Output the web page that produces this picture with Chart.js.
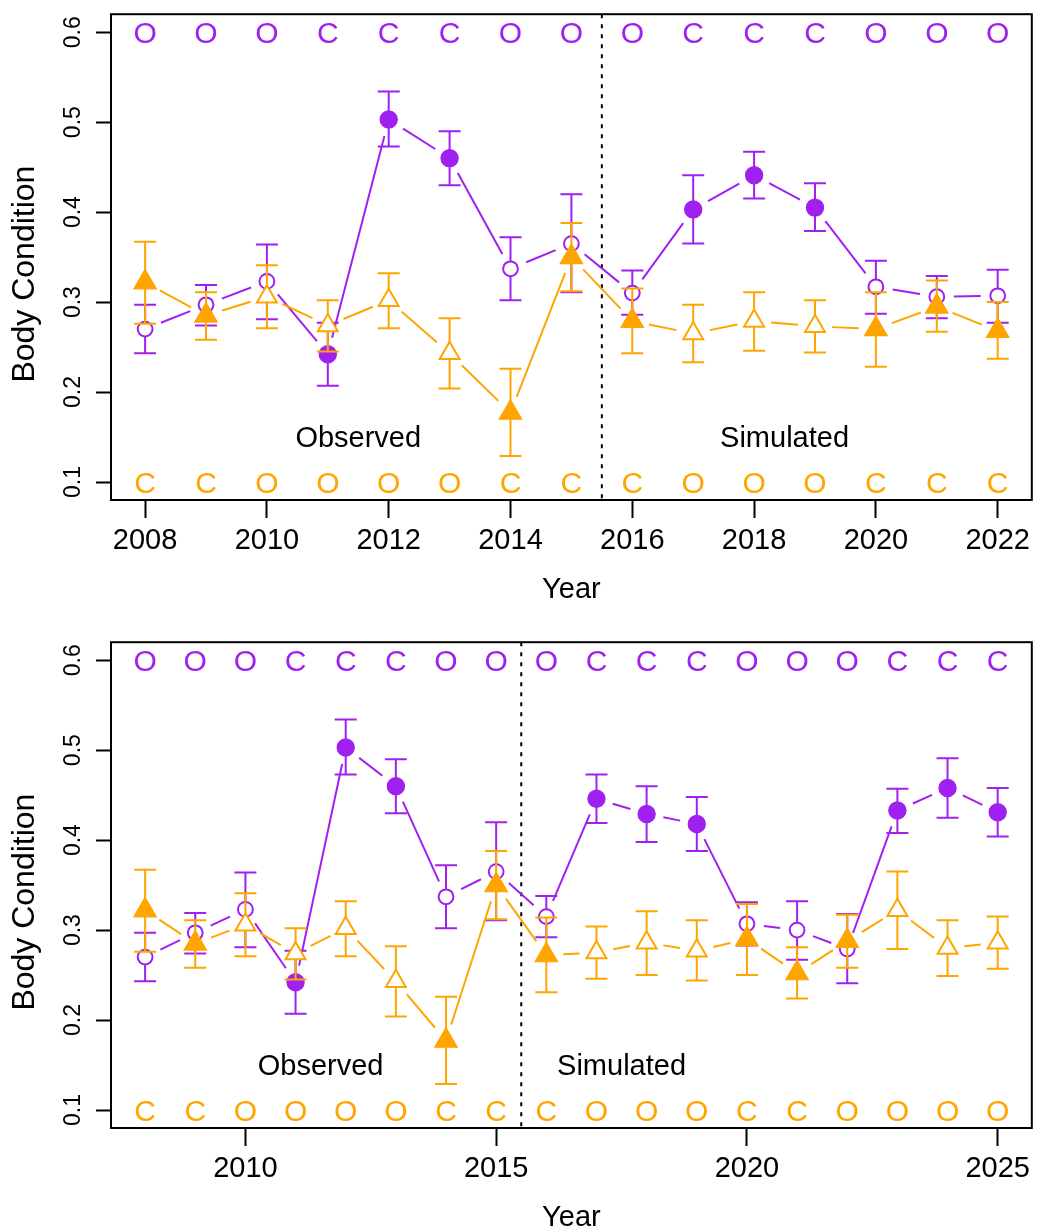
<!DOCTYPE html>
<html>
<head>
<meta charset="utf-8">
<script src="https://cdn.jsdelivr.net/npm/chart.js@4.4.1/dist/chart.umd.min.js"></script>
<style>
html,body{margin:0;padding:0;background:#fff;overflow:hidden;}
#wrap{position:relative;width:1046px;height:1230px;overflow:hidden;background:#fff;}
canvas{position:absolute;left:0;}
</style>
</head>
<body>
<div id="wrap">
<canvas id="c1" width="1046" height="628" style="top:0px"></canvas>
<canvas id="c2" width="1046" height="628" style="top:628px"></canvas>
</div>
<script>
// ---------- Panel A (2008-2022) ----------
const yearsA = [2008,2009,2010,2011,2012,2013,2014,2015,2016,2017,2018,2019,2020,2021,2022];
const purpleA   = [0.270,0.297,0.323,0.242,0.503,0.460,0.337,0.365,0.310,0.403,0.441,0.405,0.317,0.306,0.307];
const purpleLoA = [0.243,0.274,0.281,0.207,0.473,0.430,0.302,0.311,0.286,0.365,0.415,0.379,0.287,0.282,0.277];
const purpleHiA = [0.297,0.319,0.364,0.277,0.534,0.490,0.372,0.420,0.335,0.441,0.467,0.432,0.346,0.329,0.336];
const orangeA   = [0.322,0.285,0.306,0.274,0.302,0.243,0.177,0.350,0.279,0.265,0.279,0.273,0.270,0.295,0.268];
const orangeLoA = [0.276,0.258,0.271,0.245,0.271,0.204,0.129,0.312,0.243,0.233,0.246,0.244,0.228,0.267,0.237];
const orangeHiA = [0.367,0.311,0.341,0.302,0.332,0.282,0.226,0.388,0.315,0.297,0.311,0.302,0.311,0.324,0.300];
const topLettersA    = ['O','O','O','C','C','C','O','O','O','C','C','C','O','O','O'];
const bottomLettersA = ['C','C','O','O','O','O','C','C','C','O','O','O','C','C','C'];
const purpleFilledA  = [0,0,0,1,1,1,0,0,0,1,1,1,0,0,0];
const orangeFilledA  = [1,1,0,0,0,0,1,1,1,0,0,0,1,1,1];
const xTicksA = [2008,2010,2012,2014,2016,2018,2020,2022];
const xTickLabelsA = ['2008','2010','2012','2014','2016','2018','2020','2022'];

// ---------- Panel B (2008-2025) ----------
const yearsB = [2008,2009,2010,2011,2012,2013,2014,2015,2016,2017,2018,2019,2020,2021,2022,2023,2024,2025];
const purpleB   = [0.270,0.297,0.323,0.242,0.503,0.460,0.337,0.365,0.315,0.446,0.429,0.418,0.307,0.300,0.279,0.433,0.458,0.431];
const purpleLoB = [0.243,0.274,0.281,0.207,0.473,0.430,0.302,0.311,0.292,0.419,0.398,0.388,0.283,0.267,0.241,0.408,0.425,0.404];
const purpleHiB = [0.297,0.319,0.364,0.277,0.534,0.490,0.372,0.420,0.338,0.473,0.460,0.448,0.331,0.332,0.318,0.457,0.491,0.458];
const orangeB   = [0.322,0.285,0.306,0.274,0.302,0.243,0.177,0.350,0.272,0.275,0.286,0.277,0.290,0.252,0.288,0.322,0.280,0.286];
const orangeLoB = [0.276,0.258,0.271,0.245,0.271,0.204,0.129,0.312,0.231,0.246,0.250,0.244,0.250,0.224,0.258,0.279,0.249,0.257];
const orangeHiB = [0.367,0.311,0.341,0.302,0.332,0.282,0.226,0.388,0.314,0.304,0.321,0.311,0.329,0.281,0.317,0.365,0.311,0.315];
const topLettersB    = ['O','O','O','C','C','C','O','O','O','C','C','C','O','O','O','C','C','C'];
const bottomLettersB = ['C','C','O','O','O','O','C','C','C','O','O','O','C','C','O','O','O','O'];
const purpleFilledB  = [0,0,0,1,1,1,0,0,0,1,1,1,0,0,0,1,1,1];
const orangeFilledB  = [1,1,0,0,0,0,1,1,1,0,0,0,1,1,1,0,0,0];
const xTicksB = [2010,2015,2020,2025];
const xTickLabelsB = ['2010','2015','2020','2025'];

// ---------- shared ----------
const yTicks = [0.1,0.2,0.3,0.4,0.5,0.6];
const yTickLabels = ['0.1','0.2','0.3','0.4','0.5','0.6'];

const PURPLE = '#A020F0';
const ORANGE = '#FFA500';
const FONT = "'Liberation Sans', Arial, Helvetica, sans-serif";

const panelPlugin = {
  id: 'panelPlugin',
  beforeDatasetsDraw(chart) {
    const ctx = chart.ctx, xs = chart.scales.x, a = chart.chartArea;
    const p = chart.options.plugins.panelPlugin;
    const x = xs.getPixelForValue(p.divider);
    ctx.save();
    ctx.strokeStyle = '#000';
    ctx.lineWidth = 2;
    ctx.setLineDash([4, 6]);
    ctx.beginPath();
    ctx.moveTo(x, a.top);
    ctx.lineTo(x, a.bottom);
    ctx.stroke();
    ctx.restore();
  },
  beforeDatasetDraw(chart, args) {
    const ctx = chart.ctx, xs = chart.scales.x, ys = chart.scales.y;
    const ds = chart.data.datasets[args.index];
    const pts = args.meta.data;
    ctx.save();
    ctx.strokeStyle = ds.seriesColor;
    ctx.lineWidth = 2;
    ctx.setLineDash([]);
    // connecting lines with gaps (type = "b")
    const gap = 17;
    for (let i = 0; i < pts.length - 1; i++) {
      const x0 = pts[i].x, y0 = pts[i].y, x1 = pts[i+1].x, y1 = pts[i+1].y;
      const dx = x1 - x0, dy = y1 - y0, len = Math.hypot(dx, dy);
      if (len <= 2 * gap) continue;
      const ux = dx / len, uy = dy / len;
      ctx.beginPath();
      ctx.moveTo(x0 + ux * gap, y0 + uy * gap);
      ctx.lineTo(x1 - ux * gap, y1 - uy * gap);
      ctx.stroke();
    }
    // error bars
    const cap = 11;
    for (let i = 0; i < ds.years.length; i++) {
      const x = xs.getPixelForValue(ds.years[i]);
      const yl = ys.getPixelForValue(ds.lo[i]);
      const yh = ys.getPixelForValue(ds.hi[i]);
      ctx.beginPath();
      ctx.moveTo(x, yl); ctx.lineTo(x, yh);
      ctx.moveTo(x - cap, yl); ctx.lineTo(x + cap, yl);
      ctx.moveTo(x - cap, yh); ctx.lineTo(x + cap, yh);
      ctx.stroke();
    }
    ctx.restore();
  },
  afterDraw(chart) {
    const ctx = chart.ctx, xs = chart.scales.x, ys = chart.scales.y, a = chart.chartArea;
    const p = chart.options.plugins.panelPlugin;
    ctx.save();
    // letters rows
    ctx.font = '30px ' + FONT;
    ctx.textAlign = 'center';
    ctx.textBaseline = 'alphabetic';
    const yTop = ys.getPixelForValue(0.6), yBot = ys.getPixelForValue(0.1);
    for (let i = 0; i < p.years.length; i++) {
      const x = xs.getPixelForValue(p.years[i]);
      ctx.fillStyle = PURPLE;
      ctx.fillText(p.topLetters[i], x, yTop + 10.8);
      ctx.fillStyle = ORANGE;
      ctx.fillText(p.bottomLetters[i], x, yBot + 10.8);
    }
    // Observed / Simulated
    ctx.font = '29px ' + FONT;
    ctx.fillStyle = '#000';
    for (const t of p.texts) {
      ctx.fillText(t.text, xs.getPixelForValue(t.x), ys.getPixelForValue(t.y) + 10.4);
    }
    // box
    ctx.strokeStyle = '#000';
    ctx.lineWidth = 2;
    ctx.strokeRect(a.left, a.top, a.right - a.left, a.bottom - a.top);
    // y tick labels (rotated)
    ctx.font = '23px ' + FONT;
    ctx.fillStyle = '#000';
    for (let i = 0; i < yTicks.length; i++) {
      const y = ys.getPixelForValue(yTicks[i]);
      ctx.save();
      ctx.translate(80, y);
      ctx.rotate(-Math.PI / 2);
      ctx.textAlign = 'center';
      ctx.fillText(yTickLabels[i], 0, 0);
      ctx.restore();
    }
    // y axis title
    ctx.save();
    ctx.font = '32px ' + FONT;
    ctx.translate(34, (a.top + a.bottom) / 2 + 17);
    ctx.rotate(-Math.PI / 2);
    ctx.textAlign = 'center';
    ctx.fillText('Body Condition', 0, 0);
    ctx.restore();
    ctx.restore();
  }
};

function makePanel(id, p) {
  const mk = (vals, lo, hi, filled, color, style, order) => ({
    data: p.years.map((x, i) => ({x: x, y: vals[i]})),
    years: p.years, lo: lo, hi: hi, seriesColor: color,
    order: order,
    showLine: false,
    pointStyle: style,
    pointRadius: filled.map(f => style === 'circle' ? (f ? 8.6 : 7.4) : (f ? 13 : 11.5)),
    pointBorderWidth: filled.map(f => f ? 1.2 : 2),
    pointBackgroundColor: filled.map(f => f ? color : '#ffffff'),
    pointBorderColor: color
  });
  new Chart(document.getElementById(id), {
    type: 'scatter',
    data: {
      datasets: [
        mk(p.purple, p.purpleLo, p.purpleHi, p.purpleFilled, PURPLE, 'circle', 2),
        mk(p.orange, p.orangeLo, p.orangeHi, p.orangeFilled, ORANGE, 'triangle', 1)
      ]
    },
    options: {
      responsive: false,
      animation: false,
      devicePixelRatio: 1,
      events: [],
      layout: {padding: {top: 12, right: 5, left: 0, bottom: 0}},
      plugins: {
        legend: {display: false},
        tooltip: {enabled: false},
        panelPlugin: {
          divider: 2015.5,
          years: p.years,
          topLetters: p.topLetters,
          bottomLetters: p.bottomLetters,
          texts: p.texts
        }
      },
      scales: {
        x: {
          type: 'linear',
          min: p.xMin, max: p.xMax,
          afterBuildTicks: s => { s.ticks = p.xTicks.map(v => ({value: v})); },
          afterFit: s => { s.height = 128; },
          grid: {display: true, drawOnChartArea: false, drawTicks: true, tickLength: 18, tickWidth: 2, tickColor: '#000'},
          border: {display: false},
          ticks: {
            autoSkip: false, maxRotation: 0, minRotation: 0, padding: 6, color: '#000',
            font: {family: FONT, size: 29},
            callback: (v, i) => p.xTickLabels[i]
          },
          title: {display: true, text: 'Year', color: '#000', font: {family: FONT, size: 29}, padding: {top: 0, bottom: 20.6}}
        },
        y: {
          type: 'linear',
          min: 0.08, max: 0.62,
          afterBuildTicks: s => { s.ticks = yTicks.map(v => ({value: v})); },
          afterFit: s => { s.width = 111; },
          grid: {display: true, drawOnChartArea: false, drawTicks: true, tickLength: 15, tickWidth: 2, tickColor: '#000'},
          border: {display: false},
          ticks: {display: false}
        }
      }
    },
    plugins: [panelPlugin]
  });
}

makePanel('c1', {
  years: yearsA, purple: purpleA, purpleLo: purpleLoA, purpleHi: purpleHiA,
  orange: orangeA, orangeLo: orangeLoA, orangeHi: orangeHiA,
  purpleFilled: purpleFilledA, orangeFilled: orangeFilledA,
  topLetters: topLettersA, bottomLetters: bottomLettersA,
  xTicks: xTicksA, xTickLabels: xTickLabelsA,
  xMin: 2007.44, xMax: 2022.56,
  texts: [{text: 'Observed', x: 2011.5, y: 0.15}, {text: 'Simulated', x: 2018.5, y: 0.15}]
});
makePanel('c2', {
  years: yearsB, purple: purpleB, purpleLo: purpleLoB, purpleHi: purpleHiB,
  orange: orangeB, orangeLo: orangeLoB, orangeHi: orangeHiB,
  purpleFilled: purpleFilledB, orangeFilled: orangeFilledB,
  topLetters: topLettersB, bottomLetters: bottomLettersB,
  xTicks: xTicksB, xTickLabels: xTickLabelsB,
  xMin: 2007.32, xMax: 2025.68,
  texts: [{text: 'Observed', x: 2011.5, y: 0.15}, {text: 'Simulated', x: 2017.5, y: 0.15}]
});
</script>
</body>
</html>
